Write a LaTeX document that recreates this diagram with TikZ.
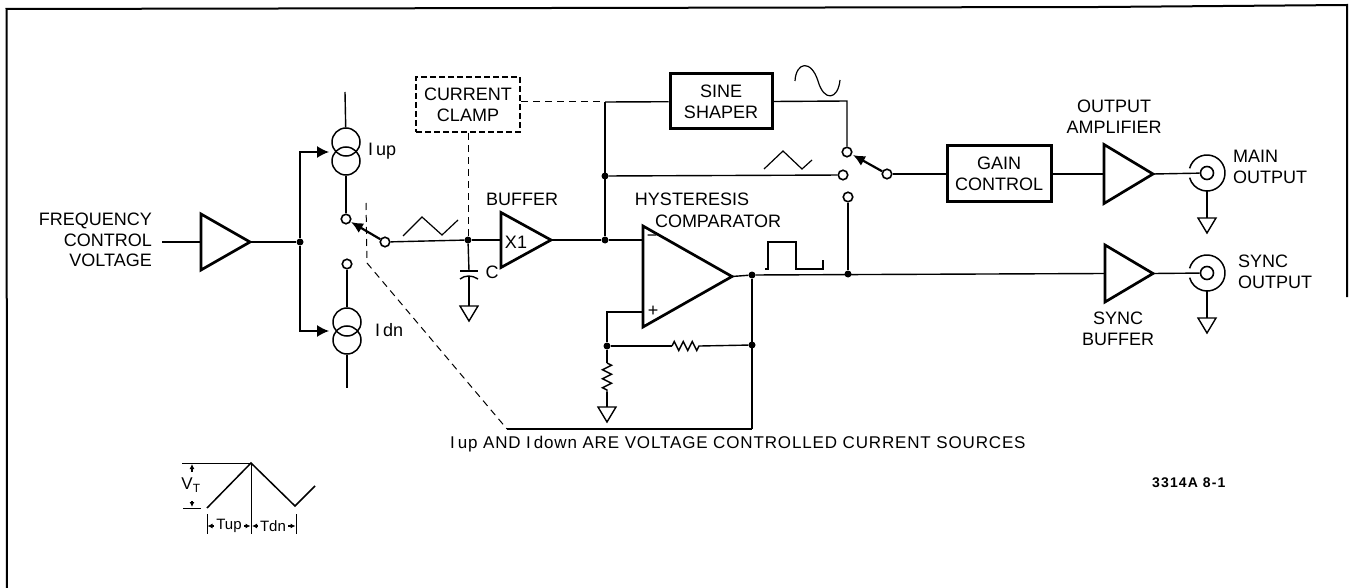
\documentclass[tikz,border=0pt]{standalone}
\usepackage{fontspec}
\setmainfont{Liberation Sans}
\usetikzlibrary{arrows.meta,decorations.pathmorphing}
\newcommand{\lblfont}{\fontsize{18}{20.7}\selectfont}
\newcommand{\ampl}[5]{%
    \draw[amp] (#2,#3-#5) -- (#2+#4,#3) -- (#2,#3+#5) -- cycle;
    \coordinate (#1) at (#2,#3);
    \coordinate (#1out) at (#2+#4,#3);
}
\newcommand{\gnd}[1]{%
    \draw[wire] (#1) -- ++(-9,0) -- ++(9,15) -- ++(9,-15) -- cycle;
}
\tikzset{
    wire/.style={line width=1.4pt},
    amp/.style={line width=2.7pt, line join=miter},
    blockbox/.style={draw, line width=3pt, align=center, font=\lblfont, inner sep=0pt},
    clampbox/.style={blockbox, line width=2.7pt, dash pattern=on 6pt off 3pt},
    lbl/.style={inner sep=0pt, align=center, font=\lblfont},
    junction/.style={circle, fill=black, inner sep=0pt, minimum size=7pt},
    contact/.style={circle, draw, fill=white, line width=1.6pt, inner sep=0pt, minimum size=9.5pt},
    source/.style={circle, draw, line width=1.5pt, inner sep=0pt, minimum size=28pt},
    jack/.style={circle, draw, fill=white, line width=1.6pt, inner sep=0pt, minimum size=13pt},
    swarm/.style={line width=2.2pt, -{Latex[length=12pt,width=11pt]}},
    feed/.style={wire, -{Latex[length=12pt,width=12pt]}},
    ctrl/.style={line width=1pt, dash pattern=on 7pt off 5pt},
    tick/.style={-{Latex[length=5pt,width=5pt]}, line width=1.2pt},
    res/.style={wire, decorate, decoration={zigzag, segment length=9pt, amplitude=4.5pt}}
}
\begin{document}
\begin{tikzpicture}[x=1pt,y=-1pt]
    \useasboundingbox (0,0) rectangle (1349,588);
    \draw[line width=2pt] (7,588) -- (6.5,9) -- (1100,7) -- (1347,5) -- (1347,297);

    \node[lbl, anchor=east, align=right] (freqlbl) at (152,240) {FREQUENCY\\CONTROL\\VOLTAGE};
    \ampl{drv}{201}{242}{49}{28}
    \draw[wire] (162,242) -- (drv);
    \node[junction] (drvj) at (300,242) {};
    \draw[wire] (drvout) -- (drvj);

    \node[source] (upa) at (346,142) {};
    \node[source] (upb) at (346,161) {};
    \node[source] (dna) at (347,322) {};
    \node[source] (dnb) at (347,340) {};
    \coordinate (upin) at (329,152);
    \coordinate (dnin) at (329,331);
    \coordinate (uptop) at (345,92);
    \coordinate (dnend) at (347,388);
    \draw[feed] (drvj) |- (upin);
    \draw[feed] (drvj) |- (dnin);
    \draw[wire] (uptop) -- (upa);
    \draw[wire] (dnb) -- (dnend);
    \node[lbl, anchor=west] (iuplbl) at (368,151) {I\,up};
    \node[lbl, anchor=west] (idnlbl) at (375,330) {I\,dn};

    \node[contact] (upk) at (346,219) {};
    \node[contact] (dnk) at (347,264) {};
    \node[contact] (chgk) at (385,242) {};
    \draw[wire] (upb) -- (upk);
    \draw[wire] (dnk) -- (dna);
    \draw[swarm] (chgk) -- (351,222);
    \draw[line width=1.2pt] (403,236) -- (422,217) -- (442,235) -- (458,220);

    \node[junction] (capj) at (468,240) {};
    \draw[wire] (chgk) -- (capj);
    \ampl{bufa}{501}{240}{50}{27.5}
    \draw[wire] (capj) -- (bufa);
    \node[lbl] (x1lbl) at (516,242) {X1};
    \node[lbl] (buflbl) at (522,199) {BUFFER};
    \node[lbl] (clbl) at (492,272) {C};
    \coordinate (capa) at (469,271);
    \coordinate (capb) at (469,276);
    \coordinate (capgnd) at (469,306);
    \draw[wire] (capj) -- (capa);
    \draw[wire] (460,271) -- (478,271);
    \draw[wire] (460,279) .. controls (465,275) and (472,275) .. (478,279);
    \draw[wire] (capb) -- (capgnd);
    \gnd{capgnd}

    \node[clampbox, minimum width=104pt, minimum height=55pt] (clamp) at (468,104.5) {CURRENT\\CLAMP};
    \draw[ctrl] (clamp) -- (capj);
    \draw[ctrl] (clamp.east |- 0,102) -- (605,102);
    \coordinate (ctrla) at (366,203);
    \coordinate (ctrlb) at (367,263);
    \coordinate (ctrlc) at (507,429);
    \draw[ctrl] (ctrla) -- (ctrlb) -- (ctrlc);

    \node[junction] (bufj) at (605,240) {};
    \node[junction] (trij) at (605,176) {};
    \coordinate (shpj) at (605,102);
    \draw[wire] (bufaout) -- (bufj);
    \draw[wire] (shpj) -- (bufj);

    \node[blockbox, minimum width=102pt, minimum height=55pt] (shaper) at (721,101.5) {SINE\\SHAPER};
    \node[contact] (sink) at (847,152) {};
    \node[contact] (trik) at (843,175) {};
    \node[contact] (sqk) at (848,197) {};
    \node[contact] (outk) at (887,174) {};
    \draw[wire] (shpj) -- (shaper);
    \draw[wire] (shaper.east) -- (847,101) -- (sink);
    \draw[wire] (trij) -- (trik);
    \draw[swarm] (outk) -- (853,155);
    \draw[line width=1.2pt] (795,81) .. controls (796,62) and (811,59) .. (818,81) .. controls (824,102) and (838,100) .. (840,80);
    \draw[line width=1.2pt] (764,169) -- (783,151) -- (802,169) -- (812,160);

    \node[blockbox, minimum width=104pt, minimum height=56pt] (gain) at (999,174) {GAIN\\CONTROL};
    \draw[wire] (outk) -- (gain);
    \ampl{outa}{1104}{174}{49}{29.5}
    \draw[wire] (gain) -- (outa);
    \node[lbl] (outlbl) at (1114,116.5) {OUTPUT\\AMPLIFIER};

    \ampl{cmp}{643}{276.5}{89}{50.5}
    \coordinate (cmpm) at (643,240);
    \coordinate (cmpp) at (643,312);
    \node[lbl] (minuslbl) at (652,238) {\textminus};
    \node[lbl] (pluslbl) at (653,311) {+};
    \node[lbl] (hystlbl) at (692,199) {HYSTERESIS};
    \node[lbl] (cmplbl) at (718,221) {COMPARATOR};
    \draw[wire] (bufj) -- (cmpm);
    \node[junction] (cmpj) at (752,275) {};
    \node[junction] (sqj) at (848,274) {};
    \node[junction] (fbj) at (752,345) {};
    \node[junction] (plj) at (607,346) {};
    \coordinate (retj) at (752,429);
    \draw[wire] (cmpout) -- (cmpj);
    \draw[wire] (cmpj) -- (retj);
    \draw[wire] (cmpp) -| (plj);
    \draw[line width=1.2pt] (765,269) -- (768,269) -- (768,242) -- (796,242) -- (796,269) -- (823,269) -- (823,260);
    \draw[wire] (sqk) -- (sqj);

    \coordinate (fba) at (672,346);
    \coordinate (fbb) at (700,346);
    \draw[wire] (plj) -- (fba);
    \draw[res] (fba) -- (fbb);
    \draw[wire] (fbb) -- (fbj);
    \coordinate (gnda) at (607,363);
    \coordinate (gndb) at (607,392);
    \coordinate (cmpgnd) at (607,407);
    \draw[wire] (plj) -- (gnda);
    \draw[res] (gnda) -- (gndb);
    \draw[wire] (gndb) -- (cmpgnd);
    \gnd{cmpgnd}
    \draw[wire] (ctrlc) -- (retj);

    \ampl{syn}{1105}{273.5}{48}{28.5}
    \draw[wire] (cmpj) -- (syn);
    \node[lbl] (synlbl) at (1118,328.5) {SYNC\\BUFFER};

    \node[jack] (mainj) at (1207,173) {};
    \node[jack] (syncj) at (1207,273) {};
    \draw[wire] (outaout) -- (mainj);
    \draw[wire] (synout) -- (syncj);
    \draw[line width=1.5pt] (mainj) ++(165:18pt) arc[start angle=165, end angle=-165, radius=18pt];
    \draw[line width=1.5pt] (syncj) ++(165:18pt) arc[start angle=165, end angle=-165, radius=18pt];
    \coordinate (mainlug) at (1207,191);
    \coordinate (synclug) at (1207,291);
    \coordinate (maingnd) at (1207,218);
    \coordinate (syncgnd) at (1207,318);
    \draw[wire] (mainlug) -- (maingnd);
    \draw[wire] (synclug) -- (syncgnd);
    \gnd{maingnd}
    \gnd{syncgnd}
    \node[lbl, anchor=west, align=left] (mainlbl) at (1233,167) {MAIN\\OUTPUT};
    \node[lbl, anchor=west, align=left] (synclbl) at (1238,271.5) {SYNC\\OUTPUT};

    \node[lbl, anchor=west] (notelbl) at (450,444) {\fontsize{17}{20}\selectfont\addfontfeature{LetterSpace=5}I\,up AND I\,down ARE VOLTAGE CONTROLLED CURRENT SOURCES};
    \node[lbl, anchor=west] (figlbl) at (1152,483) {\fontsize{14}{15}\selectfont\bfseries\addfontfeature{LetterSpace=8}3314A 8-1};

    \coordinate (ramppk) at (251,463);
    \coordinate (rampst) at (207,508);
    \draw[line width=1.5pt] (rampst) -- (ramppk) -- (295,506) -- (315,486);
    \draw[line width=1pt] (182,463) -- (ramppk);
    \draw[line width=1pt] (183,508) -- (201,508);
    \node[lbl] (vtlbl) at (191,485) {\fontsize{17}{17}\selectfont V\textsubscript{T}};
    \draw[tick] (192,472) -- (192,464);
    \draw[tick] (192,501) -- (192,507);
    \coordinate (tl) at (207,514);
    \coordinate (tm) at (251,534);
    \coordinate (tr) at (296,514);
    \draw[line width=1pt] (ramppk) -- (tm);
    \draw[line width=1pt] (tl) -- (207,534);
    \draw[line width=1pt] (tr) -- (296,534);
    \node[lbl, inner xsep=2pt] (tuplbl) at (229,526) {\fontsize{15}{15}\selectfont Tup};
    \node[lbl, inner xsep=2pt] (tdnlbl) at (273,526) {\fontsize{15}{15}\selectfont Tdn};
    \draw[tick] (tuplbl.west) -- (207.5,526);
    \draw[tick] (tuplbl.east) -- (250.5,526);
    \draw[tick] (tdnlbl.west) -- (252,526);
    \draw[tick] (tdnlbl.east) -- (295.5,526);
\end{tikzpicture}
\end{document}
